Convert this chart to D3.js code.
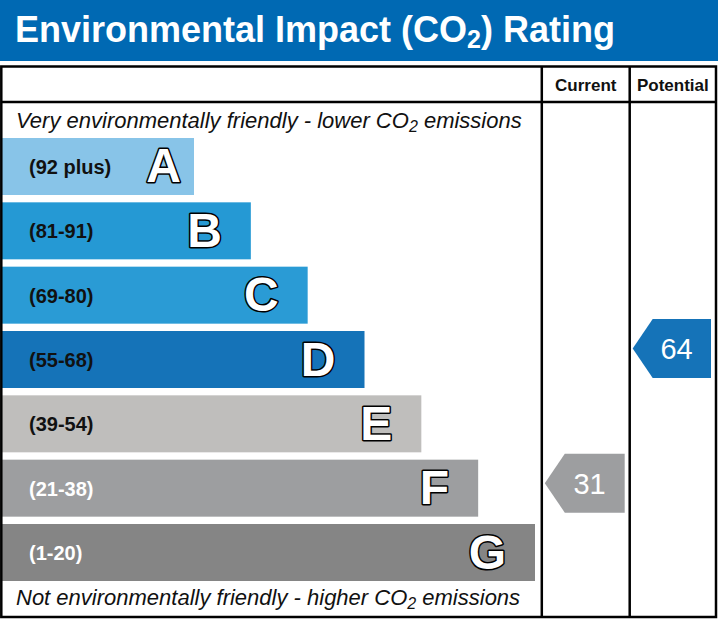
<!DOCTYPE html>
<html>
<head>
<meta charset="utf-8">
<script src="https://cdn.jsdelivr.net/npm/d3@7"></script>
<style>
  body { margin: 0; background: #fff; }
  svg text { font-family: "Liberation Sans", Arial, sans-serif; }
</style>
</head>
<body>
<div id="chart"></div>
<script>
// Rating bands, top (best) to bottom (worst)
const grades = ["A", "B", "C", "D", "E", "F", "G"];
const rangeLabels = ["(92 plus)", "(81-91)", "(69-80)", "(55-68)", "(39-54)", "(21-38)", "(1-20)"];
const rangeMin = [92, 81, 69, 55, 39, 21, 1];
const rangeMax = [100, 91, 80, 68, 54, 38, 20];
const bandColors = ["#88c4e8", "#2599d4", "#2a9bd5", "#1573b8", "#bfbebc", "#9d9ea0", "#858585"];
const labelColors = ["#111", "#111", "#111", "#111", "#111", "#fff", "#fff"];

// Scores shown in the two right-hand columns
const columns = ["Current", "Potential"];
const scores = [31, 64];
const arrowColors = ["#9d9ea0", "#1573b8"];

const W = 718, H = 619;
const svg = d3.select("#chart").append("svg")
  .attr("width", W)
  .attr("height", H);

// Title band
svg.append("rect")
  .attr("x", 0).attr("y", 0)
  .attr("width", W).attr("height", 61)
  .attr("fill", "#0069b3");
const title = svg.append("text")
  .attr("x", 15).attr("y", 42)
  .attr("fill", "#fff")
  .style("font-size", "36px")
  .style("font-weight", "bold");
title.append("tspan").text("Environmental Impact (CO");
title.append("tspan").attr("dy", 6).style("font-size", "25px").text("2");
title.append("tspan").attr("dy", -6).text(") Rating");

// Table frame
const table = {left: 1.3, right: 716, top: 66.5, bottom: 617, header: 102};
const colX = [541.8, 629.7, table.right];

// Scales
const y = d3.scaleBand()
  .domain(grades)
  .range([138, 581])
  .paddingInner(0.114)
  .paddingOuter(0);
const barEnd = d3.scaleLinear()
  .domain([0, grades.length - 1])
  .range([194, 535]);

// Bars
const bars = svg.selectAll("g.band")
  .data(grades)
  .enter()
  .append("g")
    .attr("class", "band");

bars.append("rect")
  .attr("x", 2)
  .attr("y", d => y(d))
  .attr("width", (d, i) => barEnd(i) - 2)
  .attr("height", y.bandwidth())
  .attr("fill", (d, i) => bandColors[i]);

bars.append("text")
  .attr("x", 29)
  .attr("y", d => y(d) + y.bandwidth() / 2 + 7.5)
  .attr("fill", (d, i) => labelColors[i])
  .style("font-size", "20px")
  .style("font-weight", "bold")
  .text((d, i) => rangeLabels[i]);

bars.append("text")
  .attr("x", (d, i) => barEnd(i) - (i === 0 ? 13 : 29))
  .attr("y", d => y(d) + y.bandwidth() / 2 + 16)
  .attr("text-anchor", "end")
  .attr("fill", "#fff")
  .attr("stroke", "#000")
  .attr("stroke-width", 3)
  .attr("stroke-linejoin", "round")
  .style("paint-order", "stroke")
  .style("font-size", "48px")
  .style("font-weight", "bold")
  .text(d => d);

// Top / bottom captions
function caption(yPos, before, after) {
  const t = svg.append("text")
    .attr("x", 16).attr("y", yPos)
    .attr("fill", "#111")
    .style("font-size", "22px")
    .style("font-style", "italic");
  t.append("tspan").text(before);
  t.append("tspan").attr("dy", 4).style("font-size", "16px").text("2");
  t.append("tspan").attr("dy", -4).text(after);
}
caption(128, "Very environmentally friendly - lower CO", " emissions");
caption(605, "Not environmentally friendly - higher CO", " emissions");

// Score arrows: position is linear within the band the score falls in
function scoreY(v) {
  const i = rangeMin.findIndex(m => v >= m);
  const g = grades[i];
  const f = (v - rangeMin[i]) / (rangeMax[i] - rangeMin[i]);
  return y(g) + y.bandwidth() * (1 - f);
}

columns.forEach((c, i) => {
  const x0 = colX[i] + 3, x1 = colX[i + 1] - 5;
  const cy = scoreY(scores[i]);
  const h = 59, tip = 20;
  const pts = [[x0, cy], [x0 + tip, cy - h / 2], [x1, cy - h / 2], [x1, cy + h / 2], [x0 + tip, cy + h / 2]];
  svg.append("polygon")
    .attr("points", pts.map(p => p.join(",")).join(" "))
    .attr("fill", arrowColors[i]);
  svg.append("text")
    .attr("x", x0 + (x1 - x0) * 0.56)
    .attr("y", cy + 10.5)
    .attr("text-anchor", "middle")
    .attr("fill", "#fff")
    .style("font-size", "29px")
    .text(scores[i]);

  // Column header
  svg.append("text")
    .attr("x", (colX[i] + colX[i + 1]) / 2)
    .attr("y", 90.5)
    .attr("text-anchor", "middle")
    .attr("fill", "#111")
    .style("font-size", "17px")
    .style("font-weight", "bold")
    .text(c);
});

// Grid lines
const lines = svg.append("g")
  .attr("stroke", "#000")
  .attr("stroke-width", 2.5)
  .attr("fill", "none");
lines.append("rect")
  .attr("x", table.left).attr("y", table.top)
  .attr("width", table.right - table.left)
  .attr("height", table.bottom - table.top);
lines.append("line")
  .attr("x1", table.left).attr("x2", table.right)
  .attr("y1", table.header).attr("y2", table.header);
colX.slice(0, 2).forEach(x => {
  lines.append("line")
    .attr("x1", x).attr("x2", x)
    .attr("y1", table.top).attr("y2", table.bottom);
});
</script>
</body>
</html>
